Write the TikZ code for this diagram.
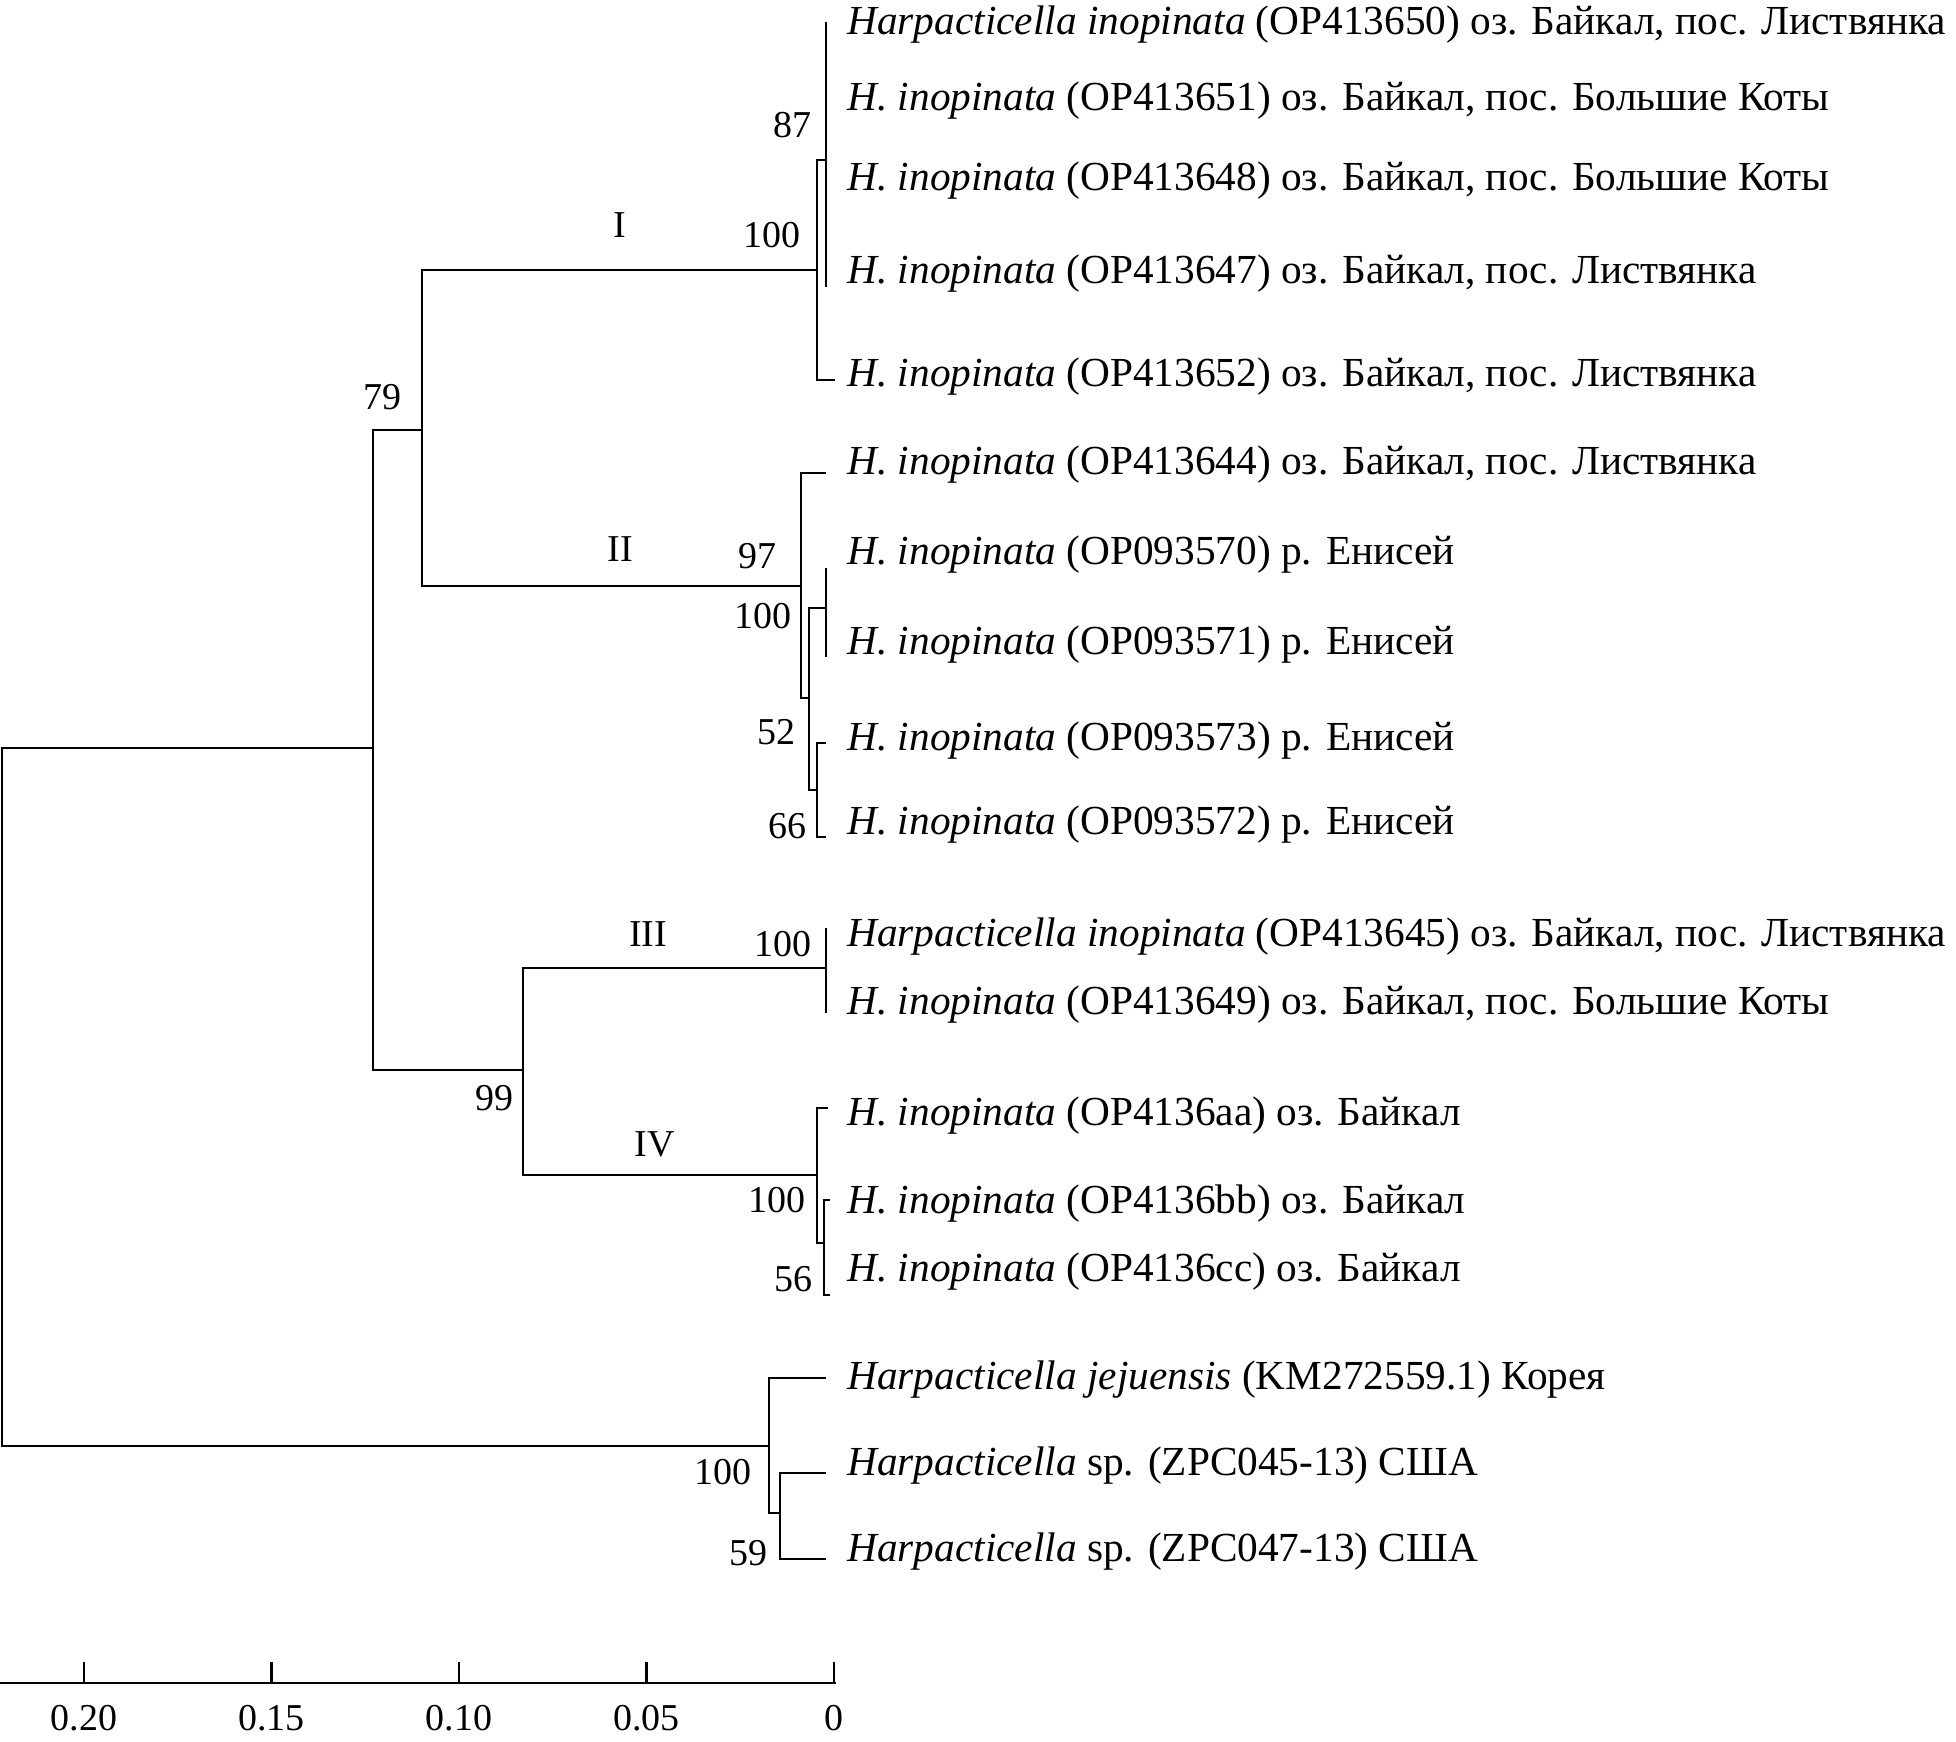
\documentclass[tikz,border=0pt]{standalone}
\usepackage{fontspec}
\setmainfont{Liberation Serif}
\usetikzlibrary{positioning}

\begin{document}
\begin{tikzpicture}[x=0.01cm, y=-0.01cm, line width=0.8pt,
  taxon/.style = {anchor=west, inner sep=0pt, font=\fontsize{11.75}{13}\selectfont},
  boot/.style = {inner sep=0pt, font=\fontsize{10.8}{12}\selectfont},
  tick/.style = {inner sep=0pt, font=\fontsize{10.8}{12}\selectfont}]
\useasboundingbox (0,0) rectangle (1956,1742);

\coordinate (root) at (2,1097);
\coordinate (nA) at (373,748);
\coordinate (nB) at (422,430);
\coordinate (nI) at (817,270);
\coordinate (n87) at (826,160);
\coordinate (nII) at (801,586);
\coordinate (nY) at (809,698);
\coordinate (nE) at (826,608);
\coordinate (n66) at (817,790);
\coordinate (nC) at (523,1070);
\coordinate (nIII) at (826,968);
\coordinate (nIV) at (817,1175);
\coordinate (n56) at (824,1243);
\coordinate (nOut) at (769,1446);
\coordinate (n59) at (780,1513);

\coordinate (l1) at (826,22);
\coordinate (l4) at (826,287);
\coordinate (l5) at (835,380);
\coordinate (l6) at (826,473);
\coordinate (l7) at (826,568);
\coordinate (l8) at (826,657);
\coordinate (l9) at (826,743);
\coordinate (l10) at (826,837);
\coordinate (l11) at (826,928);
\coordinate (l12) at (826,1013);
\coordinate (l13) at (828,1108);
\coordinate (l14) at (830,1200);
\coordinate (l15) at (830,1295);
\coordinate (l16) at (826,1378);
\coordinate (l17) at (826,1473);
\coordinate (l18) at (826,1559);

\node[taxon] (t1) at (846,25) {\textit{Harpacticella inopinata} (OP413650) оз. Байкал, пос. Листвянка};
\node[taxon] (t2) at (846,101) {\textit{H. inopinata} (OP413651) оз. Байкал, пос. Большие Коты};
\node[taxon] (t3) at (846,181) {\textit{H. inopinata} (OP413648) оз. Байкал, пос. Большие Коты};
\node[taxon] (t4) at (846,274) {\textit{H. inopinata} (OP413647) оз. Байкал, пос. Листвянка};
\node[taxon] (t5) at (846,377) {\textit{H. inopinata} (OP413652) оз. Байкал, пос. Листвянка};
\node[taxon] (t6) at (846,465) {\textit{H. inopinata} (OP413644) оз. Байкал, пос. Листвянка};
\node[taxon] (t7) at (846,555) {\textit{H. inopinata} (OP093570) р. Енисей};
\node[taxon] (t8) at (846,645) {\textit{H. inopinata} (OP093571) р. Енисей};
\node[taxon] (t9) at (846,741) {\textit{H. inopinata} (OP093573) р. Енисей};
\node[taxon] (t10) at (846,825) {\textit{H. inopinata} (OP093572) р. Енисей};
\node[taxon] (t11) at (846,937) {\textit{Harpacticella inopinata} (OP413645) оз. Байкал, пос. Листвянка};
\node[taxon] (t12) at (846,1005) {\textit{H. inopinata} (OP413649) оз. Байкал, пос. Большие Коты};
\node[taxon] (t13) at (846,1116) {\textit{H. inopinata} (OP4136aa) оз. Байкал};
\node[taxon] (t14) at (846,1204) {\textit{H. inopinata} (OP4136bb) оз. Байкал};
\node[taxon] (t15) at (846,1272) {\textit{H. inopinata} (OP4136cc) оз. Байкал};
\node[taxon] (t16) at (846,1380) {\textit{Harpacticella jejuensis} (KM272559.1) Корея};
\node[taxon] (t17) at (846,1466) {\textit{Harpacticella} sp. (ZPC045-13) США};
\node[taxon] (t18) at (846,1552) {\textit{Harpacticella} sp. (ZPC047-13) США};

\draw (root) |- (nA);
\draw (root) |- (nOut);
\draw (nA) |- (nB);
\draw (nA) |- (nC);
\draw (nB) |- (nI);
\draw (nB) |- (nII);
\draw (nI) |- (n87);
\draw (nI) |- (l5);
\draw (n87) |- (l1);
\draw (n87) |- (l4);
\draw (nII) |- (l6);
\draw (nII) |- (nY);
\draw (nY) |- (nE);
\draw (nY) |- (n66);
\draw (nE) |- (l7);
\draw (nE) |- (l8);
\draw (n66) |- (l9);
\draw (n66) |- (l10);
\draw (nC) |- (nIII);
\draw (nC) |- (nIV);
\draw (nIII) |- (l11);
\draw (nIII) |- (l12);
\draw (nIV) |- (l13);
\draw (nIV) |- (n56);
\draw (n56) |- (l14);
\draw (n56) |- (l15);
\draw (nOut) |- (l16);
\draw (nOut) |- (n59);
\draw (n59) |- (l17);
\draw (n59) |- (l18);

\node[boot] (cI) at (620,225) {I};
\node[boot] (cII) at (620,549) {II};
\node[boot] (cIII) at (648,934) {III};
\node[boot] (cIV) at (655,1144) {IV};

\node[boot] (b87) at (792,125) {87};
\node[boot] (bI) at (772,235) {100};
\node[boot] (b79) at (382,397) {79};
\node[boot] (b97) at (757,556) {97};
\node[boot] (bY) at (763,616) {100};
\node[boot] (b52) at (776,732) {52};
\node[boot] (b66) at (787,826) {66};
\node[boot] (bIII) at (783,944) {100};
\node[boot] (b99) at (494,1098) {99};
\node[boot] (bIV) at (777,1200) {100};
\node[boot] (b56) at (793,1279) {56};
\node[boot] (bOut) at (723,1472) {100};
\node[boot] (b59) at (748,1553) {59};

\coordinate (s0) at (0,1683);
\coordinate (s1) at (836,1683);
\draw (s0) -- (s1);
\foreach \x/\lab in {84/0.20, 271.5/0.15, 459/0.10, 646.5/0.05, 834/0}
  \draw (\x,1683) -- (\x,1662) (\x,1718) node[tick] {\lab};
\end{tikzpicture}
\end{document}
